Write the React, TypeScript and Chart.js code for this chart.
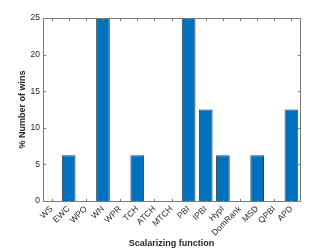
import React, { useEffect, useRef } from "react";
import { Chart, registerables } from "chart.js";

Chart.register(...registerables);

const categories = ["WS", "EWC", "WPO", "WN", "WPR", "TCH", "ATCH", "MTCH", "PBI", "IPBI", "HypI", "DomRank", "MSD", "QPBI", "APD"];
const winsPercent = [0, 6.25, 0, 25, 0, 6.25, 0, 0, 25, 12.5, 6.25, 0, 6.25, 0, 12.5];
const yTicks = [0, 5, 10, 15, 20, 25];

const AXIS = "#262626";
const FONT = "'Liberation Sans', Arial, Helvetica, sans-serif";

const boxPlugin = {
  id: "matlabBox",
  afterDatasetsDraw(chart: any) {
    const { ctx, chartArea } = chart;
    const { left, right, top, bottom } = chartArea;
    const xs = chart.scales.x;
    const ys = chart.scales.y;
    ctx.save();
    ctx.strokeStyle = "#7a7a7a";
    ctx.lineWidth = 1;
    ctx.beginPath();
    const L = Math.round(left) + 0.5;
    const R = Math.round(right) + 0.5;
    const T = Math.round(top) + 0.5;
    const B = Math.round(bottom) + 0.5;
    ctx.rect(L, T, R - L, B - T);
    const tl = 2.5;
    yTicks.forEach((v) => {
      const y = Math.round(ys.getPixelForValue(v)) + 0.5;
      ctx.moveTo(L, y);
      ctx.lineTo(L + tl, y);
      ctx.moveTo(R, y);
      ctx.lineTo(R - tl, y);
    });
    categories.forEach((_, i) => {
      const x = Math.round(xs.getPixelForValue(i)) + 0.5;
      ctx.moveTo(x, B);
      ctx.lineTo(x, B - tl);
      ctx.moveTo(x, T);
      ctx.lineTo(x, T + tl);
    });
    ctx.stroke();
    ctx.restore();
  },
};

export default function App() {
  const ref = useRef<HTMLCanvasElement>(null);
  useEffect(() => {
    if (!ref.current) return;
    const chart = new Chart(ref.current, {
      type: "bar",
      data: {
        labels: categories,
        datasets: [
          {
            data: winsPercent,
            backgroundColor: "#0072BD",
            borderColor: "#24425e",
            borderWidth: 1,
            barPercentage: 0.8,
            categoryPercentage: 1,
          },
        ],
      },
      options: {
        responsive: false,
        animation: false,
        events: [],
        layout: { padding: { top: 18, right: 32, bottom: 0, left: 0 } },
        plugins: { legend: { display: false }, tooltip: { enabled: false } },
        scales: {
          x: {
            grid: { display: false, drawTicks: false },
            border: { display: false },
            ticks: {
              color: AXIS,
              font: { family: FONT, size: 8.5 },
              minRotation: 45,
              maxRotation: 45,
              padding: 3,
              autoSkip: false,
            },
            title: {
              display: true,
              text: "Scalarizing function",
              color: AXIS,
              font: { family: FONT, size: 9, weight: "bold" },
              padding: { top: 0, bottom: 0 },
            },
            afterFit: (s: any) => {
              s.height = 48;
            },
          },
          y: {
            min: 0,
            max: 25,
            grid: { display: false, drawTicks: false },
            border: { display: false },
            afterBuildTicks: (s: any) => {
              s.ticks = yTicks.map((v) => ({ value: v }));
            },
            ticks: {
              color: AXIS,
              font: { family: FONT, size: 8.5 },
              padding: 3,
            },
            title: {
              display: true,
              text: "% Number of wins",
              color: AXIS,
              font: { family: FONT, size: 9, weight: "bold" },
              padding: { top: 17, bottom: 0 },
            },
            afterFit: (s: any) => {
              s.width = 43;
            },
          },
        },
      },
      plugins: [boxPlugin],
    });
    return () => chart.destroy();
  }, []);
  return (
    <div style={{ position: "fixed", left: 0, top: 0, width: 332, height: 249, background: "#fff" }}>
      <canvas ref={ref} width={332} height={249} style={{ display: "block" }} />
    </div>
  );
}
